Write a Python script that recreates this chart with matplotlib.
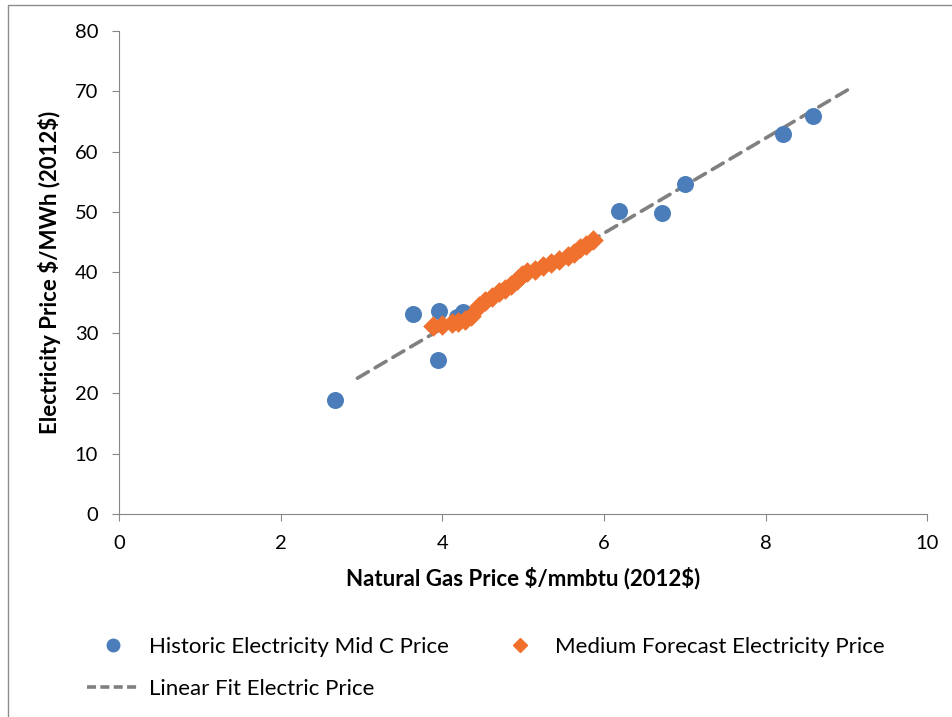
import matplotlib
matplotlib.use('Agg')
import matplotlib.pyplot as plt
from matplotlib.lines import Line2D
from matplotlib.patches import Rectangle

plt.rcParams['font.family'] = ['Lato', 'DejaVu Sans']

# historic Mid C prices (gas $/mmbtu, electricity $/MWh)
hist_gas = [2.67, 3.64, 3.96, 3.95, 4.18, 4.25, 6.19, 6.72, 7.00, 8.22, 8.59]
hist_elec = [18.9, 33.1, 33.6, 25.5, 32.6, 33.4, 50.1, 49.8, 54.6, 62.9, 65.9]

# medium forecast
fc_gas = [3.88, 4.00, 4.12, 4.20, 4.28, 4.35, 4.45, 4.53, 4.62, 4.70, 4.78, 4.85,
          4.92, 4.98, 5.05, 5.15, 5.25, 5.35, 5.45, 5.55, 5.63, 5.70, 5.78, 5.87]
fc_elec = [31.2, 31.3, 31.6, 31.8, 32.2, 32.8, 34.5, 35.2, 36.0, 36.7, 37.3, 38.0,
           38.8, 39.5, 40.0, 40.4, 41.0, 41.6, 42.1, 42.7, 43.3, 44.0, 44.6, 45.3]

# linear fit end points
fit_gas = [2.95, 9.05]
fit_elec = [22.5, 70.5]

blue = '#4A7DBA'
orange = '#F0702E'
grey = '#808080'

fig = plt.figure(figsize=(9.52, 7.17), dpi=100)
ax = fig.add_axes([0.125, 0.283, 0.849, 0.674])

ax.plot(fit_gas, fit_elec, color=grey, lw=2.6, dashes=(3.5, 2.2),
        dash_capstyle='round', zorder=1)
ax.scatter(hist_gas, hist_elec, s=150, color=blue, zorder=2, linewidths=0)
ax.scatter(fc_gas, fc_elec, s=110, marker='D', color=orange, zorder=3, linewidths=0)

ax.set_xlim(0, 10)
ax.set_ylim(0, 80)
ax.set_xticks(range(0, 11, 2))
ax.set_yticks(range(0, 81, 10))
for s in ['top', 'right']:
    ax.spines[s].set_visible(False)
for s in ['left', 'bottom']:
    ax.spines[s].set_color('#868686')
ax.tick_params(direction='out', length=5, color='#868686', labelsize=14.5, pad=10)

ax.set_xlabel(r'Natural Gas Price \$/mmbtu (2012\$)', fontsize=16, fontweight='bold', labelpad=11)
ax.set_ylabel(r'Electricity Price \$/MWh (2012\$)', fontsize=16, fontweight='bold', labelpad=10)

handles = [
    Line2D([], [], ls='none', marker='o', ms=9, color=blue, label='Historic Electricity Mid C Price'),
    Line2D([], [], color=grey, lw=2.6, dashes=(2.5, 1.2), label='Linear Fit Electric Price'),
    Line2D([], [], ls='none', marker='D', ms=7, color=orange, label='Medium Forecast Electricity Price'),
]
fig.legend(handles=handles, ncol=2, loc='upper left', bbox_to_anchor=(0.07, 0.14),
           frameon=False, fontsize=16, handlelength=2.4, handletextpad=0.4,
           columnspacing=2.0, labelspacing=1.0, bbox_transform=fig.transFigure)

# chart area border (left and top visible)
fig.add_artist(Rectangle((8 / 952, -0.1), 1.2, 1.1 - 5 / 717, transform=fig.transFigure,
                         fill=False, edgecolor='#8c8c8c', lw=1))

fig.savefig('out.png', dpi=100)
